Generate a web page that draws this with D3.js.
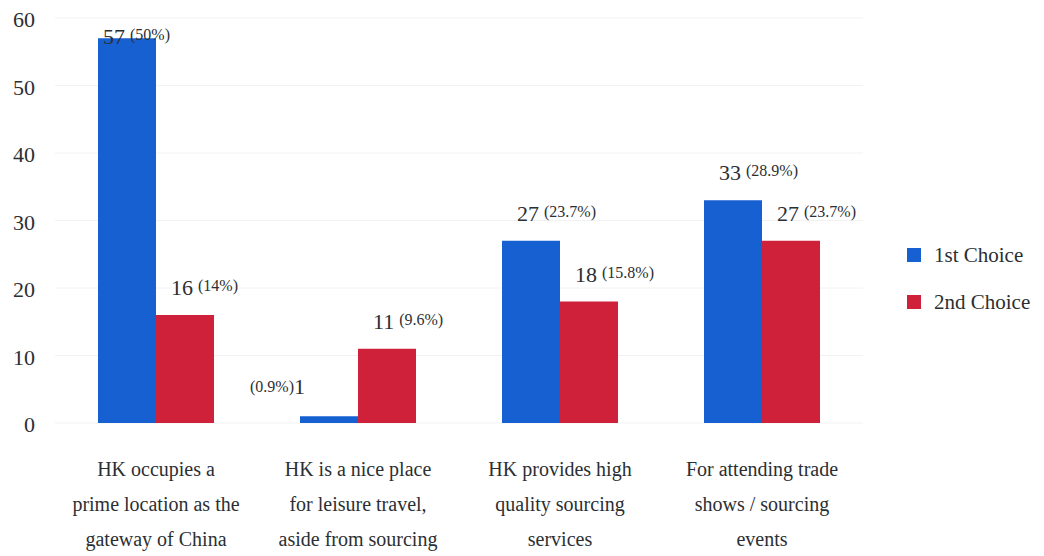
<!DOCTYPE html>
<html>
<head>
<meta charset="utf-8">
<script src="https://cdn.jsdelivr.net/npm/d3@7"></script>
<style>
  body { margin: 0; background: #fff; }
  svg text { font-family: "Times New Roman", "Liberation Serif", Times, "DejaVu Serif", serif !important; fill: #2b2f33; }
</style>
</head>
<body>
<div id="chart"></div>
<script>
// chart data
var categories = [
  ["HK occupies a", "prime location as the", "gateway of China"],
  ["HK is a nice place", "for leisure travel,", "aside from sourcing"],
  ["HK provides high", "quality sourcing", "services"],
  ["For attending trade", "shows / sourcing", "events"]
];
var seriesNames = ["1st Choice", "2nd Choice"];
var firstChoice = [57, 1, 27, 33];
var secondChoice = [16, 11, 18, 27];
var firstPct = ["(50%)", "(0.9%)", "(23.7%)", "(28.9%)"];
var secondPct = ["(14%)", "(9.6%)", "(15.8%)", "(23.7%)"];
var yTicks = [0, 10, 20, 30, 40, 50, 60];

var colors = ["#1760d2", "#d0213a"];

var svgWidth = 1044;
var svgHeight = 556;
var margin = { top: 18, right: 181, bottom: 133, left: 55 };
var width = svgWidth - margin.left - margin.right;
var height = svgHeight - margin.top - margin.bottom;

var svg = d3.select("#chart")
  .append("svg")
  .attr("width", svgWidth)
  .attr("height", svgHeight);

var chartGroup = svg.append("g")
  .attr("transform", `translate(${margin.left}, ${margin.top})`);

var x0 = d3.scaleBand()
  .domain(d3.range(categories.length))
  .range([0, width]);

var x1 = d3.scaleBand()
  .domain([0, 1])
  .range([43, x0.bandwidth() - 43]);

var y = d3.scaleLinear()
  .domain([0, 60])
  .range([height, 0]);

// faint gridlines
chartGroup.selectAll(".grid")
  .data(yTicks)
  .enter()
  .append("line")
  .attr("x1", 0)
  .attr("x2", width)
  .attr("y1", d => y(d))
  .attr("y2", d => y(d))
  .attr("stroke", "#f2f2f2")
  .attr("stroke-width", 1);

// y axis labels
var leftAxis = d3.axisLeft(y).tickValues(yTicks).tickSize(0).tickPadding(20);
var yAxis = chartGroup.append("g").call(leftAxis);
yAxis.select(".domain").remove();
yAxis.attr("font-family", null);
yAxis.selectAll("text")
  .attr("font-size", "22px")
  .attr("fill", "#2b2f33")
  .attr("dy", "0.4em");

// bars
var rows = categories.map(function(c, i) {
  return [
    { cat: i, s: 0, value: firstChoice[i], pct: firstPct[i] },
    { cat: i, s: 1, value: secondChoice[i], pct: secondPct[i] }
  ];
});

var groups = chartGroup.selectAll(".group")
  .data(rows)
  .enter()
  .append("g")
  .attr("transform", (d, i) => `translate(${x0(i)}, 0)`);

groups.selectAll("rect")
  .data(d => d)
  .enter()
  .append("rect")
  .attr("x", d => x1(d.s))
  .attr("y", d => y(d.value))
  .attr("width", x1.bandwidth())
  .attr("height", d => height - y(d.value))
  .attr("fill", d => colors[d.s]);

// value labels
groups.selectAll(".val")
  .data(d => d)
  .enter()
  .append("text")
  .attr("class", "val")
  .each(function(d) {
    var t = d3.select(this);
    if (d.value < 5) {
      // tiny bar: label sits left of the bar
      t.attr("x", x1(d.s) + 5).attr("y", y(d.value) - 22).attr("text-anchor", "end");
      t.append("tspan").attr("font-size", "16px").attr("dy", "-2").text(d.pct);
      t.append("tspan").attr("font-size", "22px").attr("dy", "2").text(d.value);
    } else {
      var top = d.value > 50 ? y(d.value) + 6 : y(d.value) - 20;
      t.attr("x", x1(d.s) + (d.value > 50 ? 5 : 15)).attr("y", top);
      t.append("tspan").attr("font-size", "22px").text(d.value);
      t.append("tspan").attr("font-size", "16px").attr("dx", "5").attr("dy", "-4").text(d.pct);
    }
  });

// category labels
var catLabels = chartGroup.selectAll(".cat")
  .data(categories)
  .enter()
  .append("text")
  .attr("class", "cat")
  .attr("text-anchor", "middle")
  .attr("font-size", "20px")
  .attr("x", (d, i) => x0(i) + x0.bandwidth() / 2)
  .attr("y", height + 53);

catLabels.selectAll("tspan")
  .data(d => d)
  .enter()
  .append("tspan")
  .attr("x", function() { return d3.select(this.parentNode).attr("x"); })
  .attr("dy", (d, i) => i === 0 ? 0 : 35)
  .text(d => d);

// legend
var legend = svg.append("g")
  .attr("transform", "translate(907, 248)");

var legendItem = legend.selectAll(".leg")
  .data(seriesNames)
  .enter()
  .append("g")
  .attr("transform", (d, i) => `translate(0, ${i * 47})`);

legendItem.append("rect")
  .attr("width", 14)
  .attr("height", 14)
  .attr("fill", (d, i) => colors[i]);

legendItem.append("text")
  .attr("x", 27)
  .attr("y", 14)
  .attr("font-size", "21px")
  .text(d => d);
</script>
</body>
</html>
